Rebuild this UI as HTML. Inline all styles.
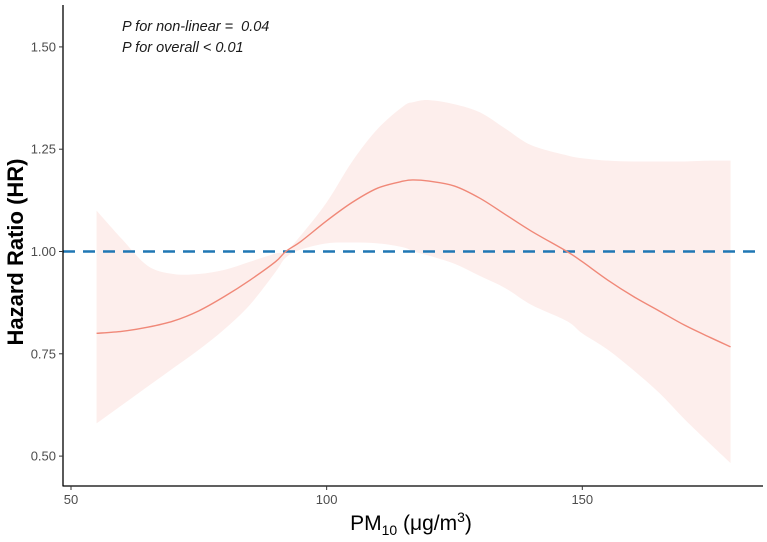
<!DOCTYPE html>
<html><head><meta charset="utf-8"><style>
body{margin:0;background:#fff}
svg{display:block;font-family:"Liberation Sans",Arial,sans-serif}
</style></head><body>
<svg id="chart" width="767" height="542"></svg>
<script>
const xs=[55,60,65,70,75,80,85,90,92,95,100,105,110,115,117,120,125,130,135,140,147,150,155,160,165,170,175,179];
const hr=[0.80,0.805,0.815,0.83,0.855,0.89,0.93,0.975,1.0,1.025,1.075,1.12,1.155,1.172,1.175,1.172,1.16,1.13,1.09,1.05,1.0,0.975,0.93,0.89,0.855,0.82,0.79,0.767];
const upper=[1.10,1.03,0.965,0.945,0.945,0.955,0.975,0.995,1.0,1.04,1.12,1.22,1.30,1.355,1.365,1.37,1.36,1.34,1.30,1.26,1.235,1.228,1.222,1.22,1.22,1.22,1.222,1.222];
const lower=[0.58,0.625,0.67,0.715,0.76,0.81,0.87,0.95,0.985,1.005,1.02,1.022,1.02,1.01,1.0,0.99,0.97,0.94,0.91,0.87,0.83,0.80,0.76,0.71,0.655,0.59,0.53,0.483];
const yTicks=[0.50,0.75,1.00,1.25,1.50];
const xTicks=[50,100,150];
const ref=1.0;
const NS="http://www.w3.org/2000/svg";
const svg=document.getElementById('chart');
const X=v=>71+(v-50)*5.113;
const Y=v=>251.5-(v-1)*409.2;
function mk(t,a,p){const e=document.createElementNS(NS,t);for(const k in a)e.setAttribute(k,a[k]);(p||svg).appendChild(e);return e;}
function smooth(pts,start){
  let d=(start?'M':'L')+pts[0][0]+','+pts[0][1];
  for(let i=0;i<pts.length-1;i++){
    const p0=pts[Math.max(i-1,0)],p1=pts[i],p2=pts[i+1],p3=pts[Math.min(i+2,pts.length-1)];
    const c1=[p1[0]+(p2[0]-p0[0])/6,p1[1]+(p2[1]-p0[1])/6];
    const c2=[p2[0]-(p3[0]-p1[0])/6,p2[1]-(p3[1]-p1[1])/6];
    d+='C'+c1+' '+c2+' '+p2;
  }
  return d;
}
const up=xs.map((x,i)=>[X(x),Y(upper[i])]);
const lo=xs.map((x,i)=>[X(x),Y(lower[i])]).reverse();
const band=mk('path',{d:smooth(up,true)+smooth(lo,false)+'Z',fill:'#fdeeec'});


const refl=mk('line',{x1:63,x2:762,y1:Y(ref),y2:Y(ref),stroke:'#1f77b4',"stroke-width":2.5,"stroke-dasharray":"12,8"});


const line=mk('path',{d:smooth(xs.map((x,i)=>[X(x),Y(hr[i])]),true),fill:'none',stroke:'#f08878',"stroke-width":1.4});


const ya=mk('line',{x1:63,x2:63,y1:5,y2:486,stroke:'#000',"stroke-width":1.3});


const xa=mk('line',{x1:62.5,x2:763,y1:486,y2:486,stroke:'#000',"stroke-width":1.3});


yTicks.forEach(v=>{
  mk('line',{x1:59,x2:63,y1:Y(v),y2:Y(v),stroke:'#333'});
  const t=mk('text',{x:56,y:Y(v)+4.5,"text-anchor":"end","font-size":13,fill:'#4d4d4d'});
  t.textContent=v.toFixed(2);
  
  
});
xTicks.forEach(v=>{
  mk('line',{x1:X(v),x2:X(v),y1:486,y2:490,stroke:'#333'});
  const t=mk('text',{x:X(v),y:504,"text-anchor":"middle","font-size":13,fill:'#4d4d4d'});
  t.textContent=v;
  
  
});
</script>
<div style="position:absolute;left:0;top:0;width:767px;height:542px;pointer-events:none">
<svg width="767" height="542" style="font-family:'Liberation Sans',Arial,sans-serif">
<text transform="translate(23,252) rotate(-90)" text-anchor="middle" font-size="22" font-weight="bold" fill="#000">Hazard Ratio (HR)</text>
<text x="411" y="530" text-anchor="middle" font-size="21" fill="#000">PM<tspan font-size="14" dy="5">10</tspan><tspan dy="-5"> (μg/m</tspan><tspan font-size="14" dy="-8">3</tspan><tspan dy="8">)</tspan></text>
<text x="122" y="31" font-size="14.5" font-style="italic" fill="#1a1a1a">P for non-linear =&#160; 0.04</text>
<text x="122" y="52" font-size="14.5" font-style="italic" fill="#1a1a1a">P for overall &lt; 0.01</text>
</svg></div>
</body></html>
